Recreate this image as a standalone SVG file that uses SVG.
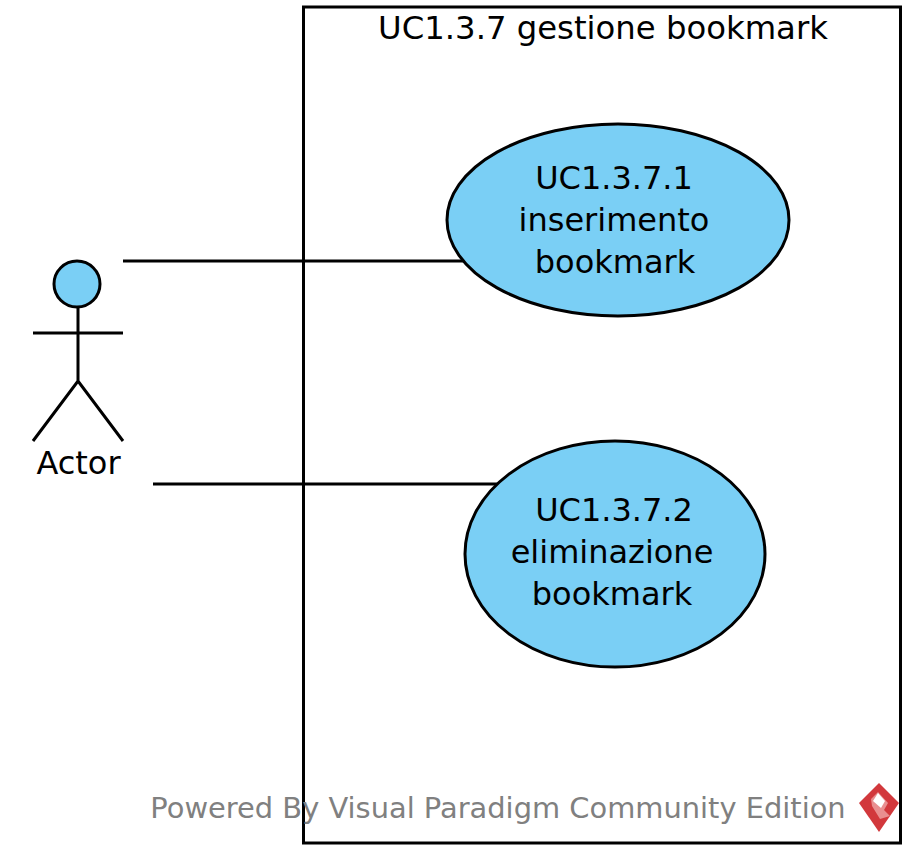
<svg xmlns="http://www.w3.org/2000/svg" width="915" height="858" viewBox="0 0 915 858">
<style>
text{font-family:"DejaVu Sans",sans-serif;font-size:32px;fill:#000;text-anchor:middle}
.s{fill:none;stroke:#000;stroke-width:3}
.f{fill:#7acff5;stroke:#000;stroke-width:3}
</style>
<rect width="915" height="858" fill="#fff"/>
<g id="system"><rect class="s" x="303.500" y="7" width="597" height="836"/>
<text x="603" y="39" style="font-size:32.3px">UC1.3.7 gestione bookmark</text></g>
<g id="connectors"><path class="s" d="M123 261H464M153 484H498"/></g>
<g id="actor"><circle class="f" cx="77" cy="284" r="23"/><path class="s" d="M78 307V381M33 333H123M33 441L78 381L123 441"/><text x="78.500" y="474">Actor</text></g>
<g id="uc1"><ellipse class="f" cx="618" cy="220" rx="171" ry="96"/><text x="614" y="189">UC1.3.7.1</text><text x="614" y="231">inserimento</text><text x="615" y="273">bookmark</text></g>
<g id="uc2"><ellipse class="f" cx="615" cy="554" rx="150" ry="113"/><text x="614" y="521">UC1.3.7.2</text><text x="612" y="563">eliminazione</text><text x="612" y="605">bookmark</text></g>
<g id="watermark"><text x="498" y="818" style="font-size:28.9px;fill:#808080">Powered By Visual Paradigm Community Edition</text>
<path d="M879 783L899 803L879 832L859 803Z" fill="#d2383c"/>
<path d="M878 792L888 803L884 810L890 816L880 819L872 806L871 799Z" fill="#e98f90"/>
<path d="M878 793L885 801L881 808L873 801Z" fill="#fff"/></g>
</svg>
